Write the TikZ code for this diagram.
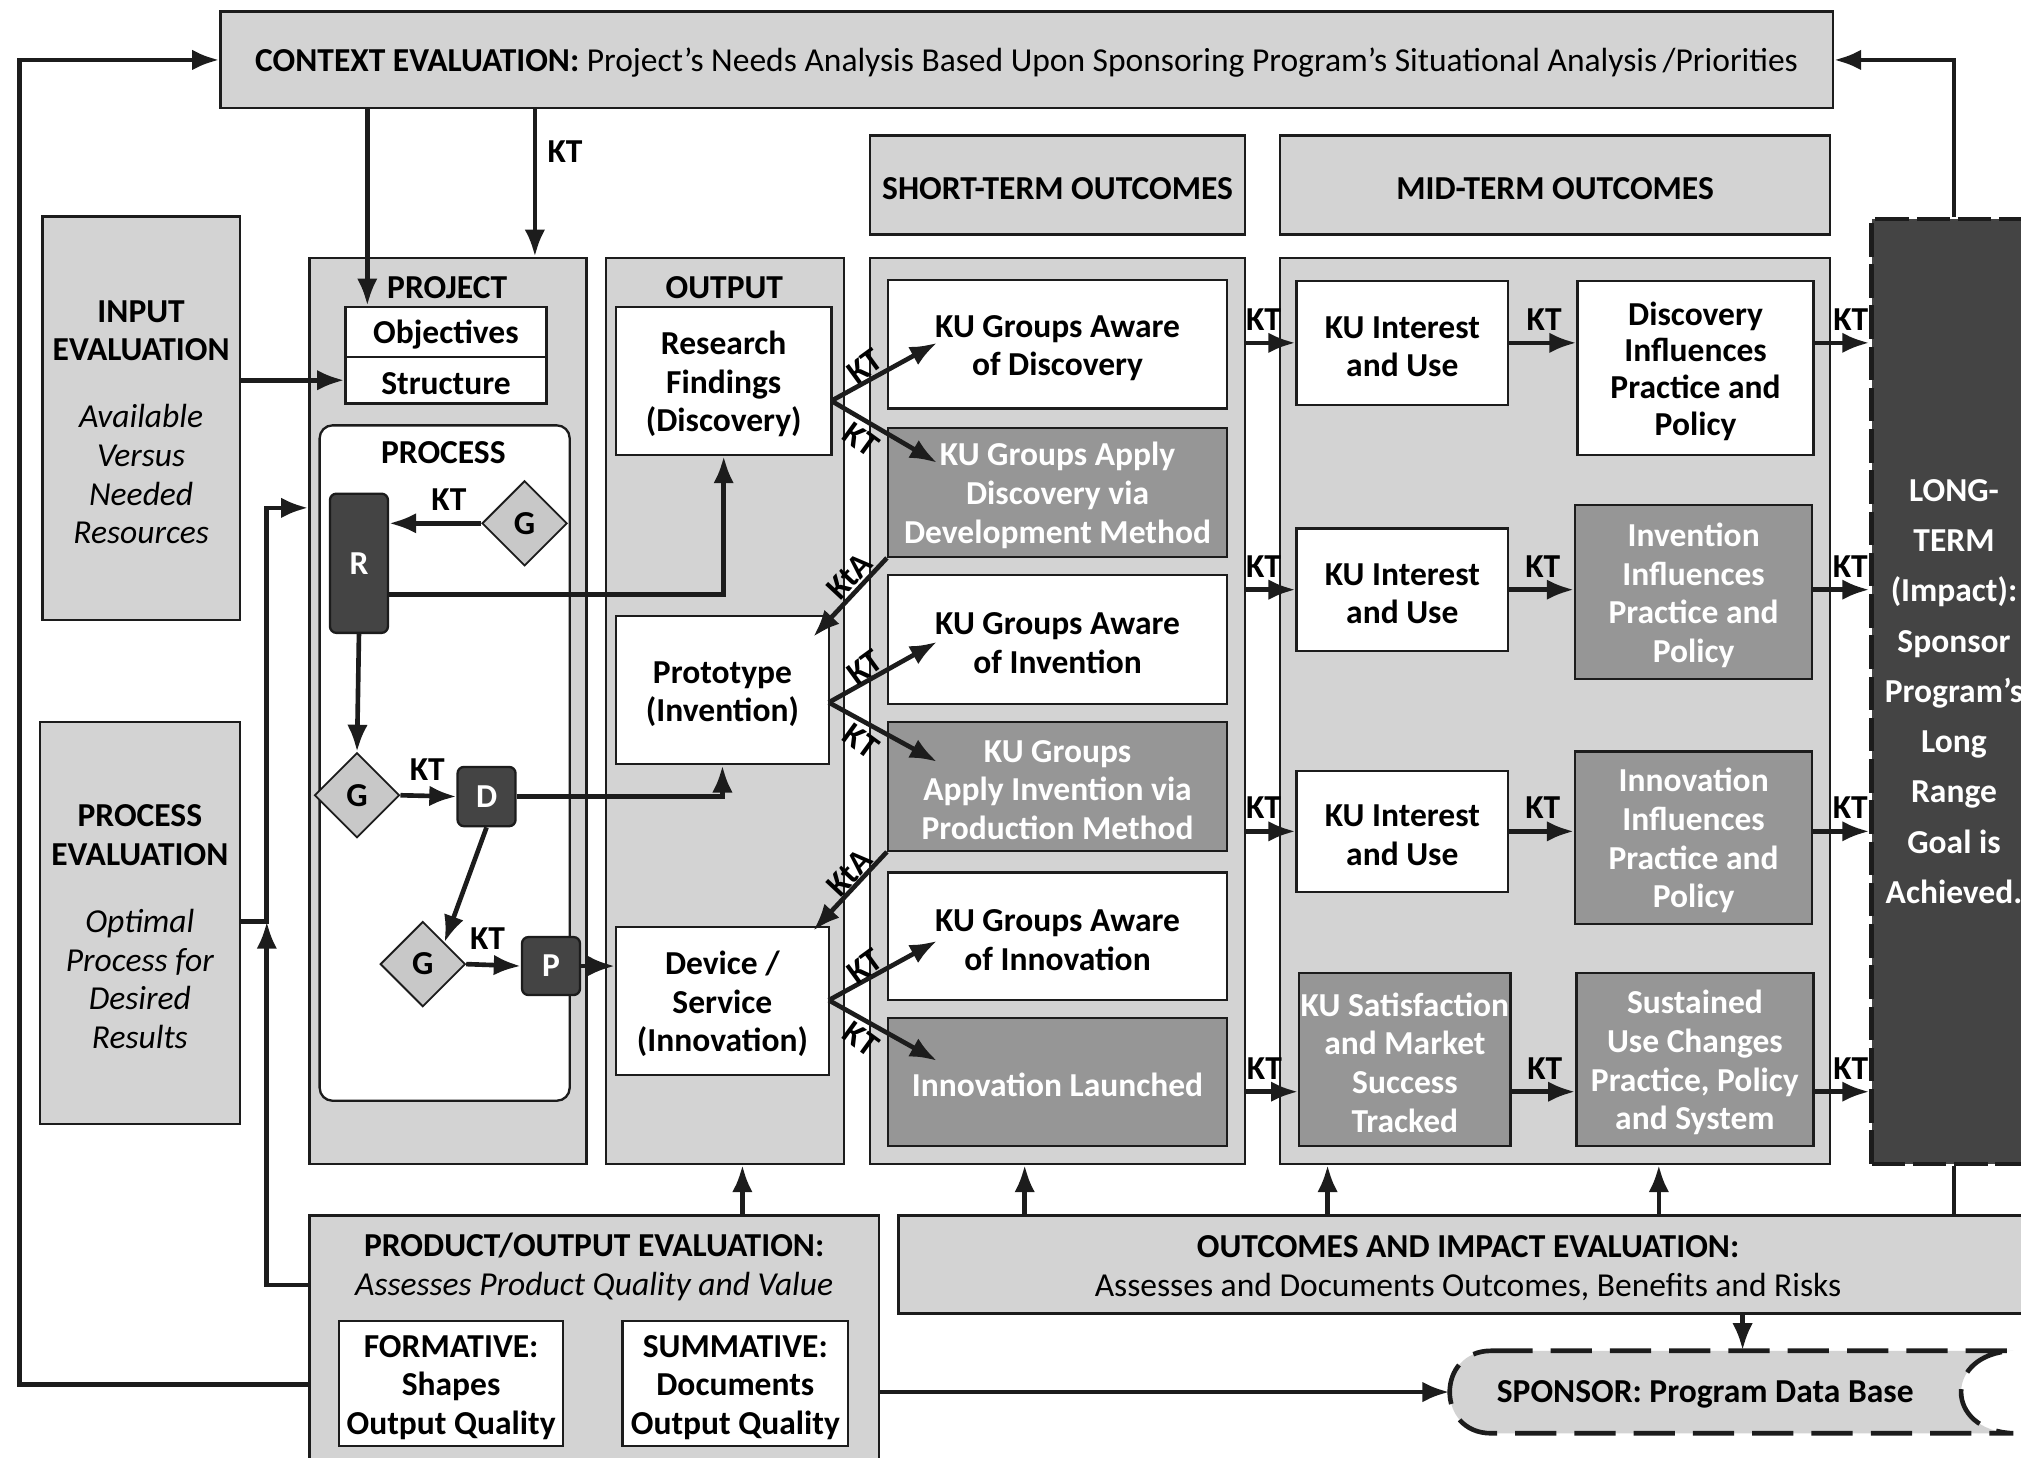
\documentclass[tikz,border=0pt]{standalone}
\usepackage{fontspec}
\setmainfont{Carlito}
\usetikzlibrary{arrows.meta,shapes.geometric}
\definecolor{linec}{RGB}{28,28,28}
\definecolor{lightg}{RGB}{211,211,211}
\definecolor{midg}{RGB}{150,150,150}
\definecolor{darkg}{RGB}{68,68,68}
\definecolor{diamg}{RGB}{200,200,200}
\newcommand{\ilt}[1]{{\mdseries\itshape #1}}
\newcommand{\fl}{\rule{0pt}{11.5pt}}
\begin{document}
\begin{tikzpicture}[x=0.5pt,y=-0.5pt,
  font=\fontsize{13}{15}\selectfont\bfseries,
  corners/.style n args={4}{minimum width={(#3-#1)*0.5pt}, minimum height={(#4-#2)*0.5pt}, at={({(#1+#3)/2},{(#2+#4)/2})}},
  bx/.style={draw=linec, line width=0.9pt, inner sep=0pt, align=center},
  lower/.style={execute at begin node={\fl}},
  lg/.style={bx, lower, fill=lightg},
  wt/.style={bx, lower, fill=white},
  md/.style={bx, lower, fill=midg, text=white},
  dk/.style={bx, fill=darkg, text=white, rounded corners=2.5pt},
  dm/.style={diamond, draw=linec, line width=0.7pt, fill=diamg, inner sep=0pt, minimum size=33pt},
  ar/.style={draw=linec, line width=1.8pt, -{Latex[length=10.5pt,width=8pt]}},
  ln/.style={draw=linec, line width=1.8pt},
  kt/.style={inner sep=1pt},
  ltd/.style={dash pattern=on 13pt off 3pt, line width=1.7pt, draw=linec},
  spd/.style={dash pattern=on 16pt off 7pt, line width=1.8pt, draw=linec}
]
\useasboundingbox (0,0) rectangle (1568,1131);

% ---------- top
\node[lg, corners={171}{9}{1422}{84}] (ctx) {CONTEXT EVALUATION: \mdseries Project’s Needs Analysis Based Upon Sponsoring Program’s Situational Analysis\,/Priorities};
\node[lg, corners={675}{105}{966}{182}] (sth) {SHORT-TERM OUTCOMES};
\node[lg, corners={993}{105}{1420}{182}] (mth) {MID-TERM OUTCOMES};

% ---------- left evaluations
\node[lg, corners={33}{168}{186}{481}] (inp) {\fl INPUT\\EVALUATION\\[11pt]\ilt{Available}\\\ilt{Versus}\\\ilt{Needed}\\\ilt{Resources}};
\node[lg, corners={31}{560}{186}{872}] (pev) {\fl PROCESS\\EVALUATION\\[11pt]\ilt{Optimal}\\\ilt{Process for}\\\ilt{Desired}\\\ilt{Results}};

% ---------- columns
\node[lg, corners={240}{200}{455}{903}] (proj) {};
\node (projt) at (347,223) {PROJECT};
\node[lg, corners={470}{200}{655}{903}] (out) {};
\node (outt) at (562,223) {OUTPUT};
\node[lg, corners={675}{200}{966}{903}] (st) {};
\node[lg, corners={993}{200}{1420}{903}] (mt) {};
\node[corners={1452}{170}{1580}{903}, fill=darkg, ltd, inner sep=0pt, text=white, align=center, font=\fontsize{13}{19.5}\selectfont\bfseries] (lt) {LONG-\\TERM\\(Impact):\\Sponsor\\Program’s\\Long\\Range\\Goal is\\Achieved.};

% ---------- project
\node[wt, corners={268}{238}{424}{277}] (obj) {Objectives};
\node[wt, corners={268}{277}{424}{313}] (str) {Structure};
\node[wt, rounded corners=5pt, corners={248}{330}{442}{854}] (prc) {};
\node (prct) at (344,351) {PROCESS};
\node[dk, corners={256}{383}{301}{491}] (R) {R};
\node[dm] (g1) at (407,406) {G};
\node[dm] (g2) at (277,617) {G};
\node[dk, corners={355}{595}{400}{641}] (D) {D};
\node[dm] (g3) at (328,748) {G};
\node[dk, corners={405}{727}{450}{772}] (P) {P};

% ---------- output
\node[wt, corners={478}{238}{645}{353}] (rf) {\fl Research\\Findings\\(Discovery)};
\node[wt, corners={478}{478}{643}{593}] (proto) {\fl Prototype\\(Invention)};
\node[wt, corners={478}{719}{643}{834}] (dev) {\fl Device /\\Service\\(Innovation)};

% ---------- short-term
\node[wt, corners={689}{217}{952}{317}] (s1) {\fl KU Groups Aware\\of Discovery};
\node[md, corners={689}{332}{952}{432}] (s2) {\fl KU Groups Apply\\Discovery via\\Development Method};
\node[wt, corners={689}{446}{952}{546}] (s3) {\fl KU Groups Aware\\of Invention};
\node[md, corners={689}{560}{952}{660}] (s4) {\fl KU Groups\\Apply Invention via\\Production Method};
\node[wt, corners={689}{677}{952}{776}] (s5) {\fl KU Groups Aware\\of Innovation};
\node[md, corners={689}{790}{952}{889}] (s6) {Innovation Launched};

% ---------- mid-term
\node[wt, corners={1006}{218}{1170}{314}] (m11) {\fl KU Interest\\and Use};
\node[wt, corners={1224}{218}{1407}{353}, font=\fontsize{13}{14.2}\selectfont\bfseries] (m12) {\fl Discovery\\Influences\\Practice and\\Policy};
\node[wt, corners={1006}{410}{1170}{505}] (m21) {\fl KU Interest\\and Use};
\node[md, corners={1222}{392}{1406}{527}] (m22) {\fl Invention\\Influences\\Practice and\\Policy};
\node[wt, corners={1006}{598}{1170}{692}] (m31) {\fl KU Interest\\and Use};
\node[md, corners={1222}{583}{1406}{717}] (m32) {\fl Innovation\\Influences\\Practice and\\Policy};
\node[md, corners={1008}{755}{1172}{889}] (m41) {\fl KU Satisfaction\\and Market\\Success\\Tracked};
\node[md, corners={1223}{755}{1407}{889}] (m42) {\fl Sustained\\Use Changes\\Practice, Policy\\and System};

% ---------- bottom
\node[lg, corners={240}{943}{682}{1145}] (prod) {};
\node[align=center] (prodt) at (461,983) {PRODUCT/OUTPUT EVALUATION:\\\ilt{Assesses Product Quality and Value}};
\node[wt, corners={263}{1025}{437}{1122}] (form) {\fl FORMATIVE:\\Shapes\\Output Quality};
\node[wt, corners={483}{1025}{658}{1122}] (summ) {\fl SUMMATIVE:\\Documents\\Output Quality};
\node[lg, corners={697}{943}{1581}{1019}] (oie) {\fl OUTCOMES AND IMPACT EVALUATION:\\{\mdseries Assesses and Documents Outcomes, Benefits and Risks}};
\path[fill=lightg, spd] (1157,1048) -- (1562,1048) .. controls (1508,1050) and (1508,1110) .. (1562,1112) -- (1157,1112) .. controls (1114,1112) and (1114,1048) .. (1157,1048) -- cycle;
\node[corners={1125}{1048}{1562}{1112}, inner sep=0pt] (sp) {};
\node (spt) at (1323,1082) {SPONSOR: Program Data Base};

% ---------- helper coordinates
\coordinate (c1) at (285,0);
\coordinate (c2) at (415,0);
\coordinate (fbL) at (15,1074);
\coordinate (jx) at (207,715);
\coordinate (pjy) at (0,394);
\coordinate (pdy) at (0,997);
\coordinate (rfy) at (0,461);
\coordinate (r4) at (0,847);
\coordinate (u0) at (576,0);
\coordinate (u1) at (795,0);
\coordinate (u2) at (1030,0);
\coordinate (u3) at (1287,0);
\coordinate (u4) at (1352,0);
\coordinate (o1) at (645,311);
\coordinate (o2) at (643,545);
\coordinate (o3) at (643,776);
\coordinate (t1a) at (727,266);
\coordinate (t1b) at (727,359);
\coordinate (t2a) at (727,498);
\coordinate (t2b) at (727,591);
\coordinate (t3a) at (727,730);
\coordinate (t3b) at (727,823);
\coordinate (ka1) at (631,494);
\coordinate (ka2) at (631,722);

% ---------- feedback loops
\draw[ar] (prod.west |- fbL) -- (fbL) |- (ctx.west);
\draw[ar] (lt.north) |- (ctx.east);
\draw[ar] (ctx.south -| c1) -- (obj.north -| c1);
\draw[ar] (ctx.south -| c2) -- node[kt, pos=0.29, anchor=west, xshift=3pt] (kc) {KT} (proj.north -| c2);
\draw[ar] (inp.east |- str.west) -- (str.west);
\draw[ar] (pev.east |- jx) -- (jx) |- (proj.west |- pjy);
\draw[ar] (prod.west |- pdy) -| (jx);

% ---------- process
\draw[ar] (g1.west) -- node[kt, above=3pt, pos=0.35] (kp1) {KT} (R.east |- g1.west);
\draw[ar] (R.south) -- (g2.north);
\draw[ar] (g2.east) -- node[kt, above=4pt, pos=0.48] (kp2) {KT} (D.west);
\draw[ar] (D.south) -- (g3.north east);
\draw[ar] (g3.east) -- node[kt, above=4pt, pos=0.39] (kp3) {KT} (P.west);
\draw[ar] (P.east) -- (dev.west |- P.east);
\draw[ar] (R.east |- rfy) -| (rf.south);
\draw[ar] (D.east) -| (proto.south);

% ---------- output -> short-term
\draw[ar] (o1) -- (t1a);
\draw[ar] (o1) -- (t1b);
\draw[ar] (o2) -- (t2a);
\draw[ar] (o2) -- (t2b);
\draw[ar] (o3) -- (t3a);
\draw[ar] (o3) -- (t3b);
\draw[ar] (s2.south west) -- (ka1);
\draw[ar] (s4.south west) -- (ka2);
\node[kt, rotate=36] (kd1) at (671,284) {KT};
\node[kt, rotate=-36] (kd2) at (668,341) {KT};
\node[kt, rotate=47] (kd3) at (659,447) {KtA};
\node[kt, rotate=36] (kd4) at (671,518) {KT};
\node[kt, rotate=-36] (kd5) at (668,575) {KT};
\node[kt, rotate=47] (kd6) at (659,677) {KtA};
\node[kt, rotate=36] (kd7) at (671,750) {KT};
\node[kt, rotate=-36] (kd8) at (668,806) {KT};

% ---------- short-term -> mid-term -> long-term
\draw[ar] (st.east |- m11.west) -- node[kt, above=3pt, pos=0.35] (ka) {KT} (m11.west);
\draw[ar] (m11.east) -- node[kt, above=3pt, pos=0.52] (kb) {KT} (m12.west |- m11.east);
\draw[ar] (m12.east |- m11.east) -- node[kt, above=3pt, pos=0.66] (kc1) {KT} (lt.west |- m11.east);
\draw[ar] (st.east |- m21.west) -- node[kt, above=3pt, pos=0.35] (kd) {KT} (m21.west);
\draw[ar] (m21.east) -- node[kt, above=3pt, pos=0.52] (ke) {KT} (m22.west |- m21.east);
\draw[ar] (m22.east |- m21.east) -- node[kt, above=3pt, pos=0.66] (kf) {KT} (lt.west |- m21.east);
\draw[ar] (st.east |- m31.west) -- node[kt, above=3pt, pos=0.35] (kg) {KT} (m31.west);
\draw[ar] (m31.east) -- node[kt, above=3pt, pos=0.52] (kh) {KT} (m32.west |- m31.east);
\draw[ar] (m32.east |- m31.east) -- node[kt, above=3pt, pos=0.66] (ki) {KT} (lt.west |- m31.east);
\draw[ar] (st.east |- r4) -- node[kt, above=3pt, pos=0.35] (kj) {KT} (m41.west |- r4);
\draw[ar] (m41.east |- r4) -- node[kt, above=3pt, pos=0.52] (kk) {KT} (m42.west |- r4);
\draw[ar] (m42.east |- r4) -- node[kt, above=3pt, pos=0.66] (kl) {KT} (lt.west |- r4);

% ---------- bottom connectors
\draw[ar] (prod.north -| u0) -- (out.south -| u0);
\draw[ar] (oie.north -| u1) -- (st.south -| u1);
\draw[ar] (oie.north -| u2) -- (mt.south -| u2);
\draw[ar] (oie.north -| u3) -- (mt.south -| u3);
\draw[ln] (lt.south) -- (oie.north -| lt.south);
\draw[ar] (oie.south -| u4) -- (sp.north -| u4);
\draw[ar] (prod.east |- sp.west) -- (sp.west);
\end{tikzpicture}
\end{document}
